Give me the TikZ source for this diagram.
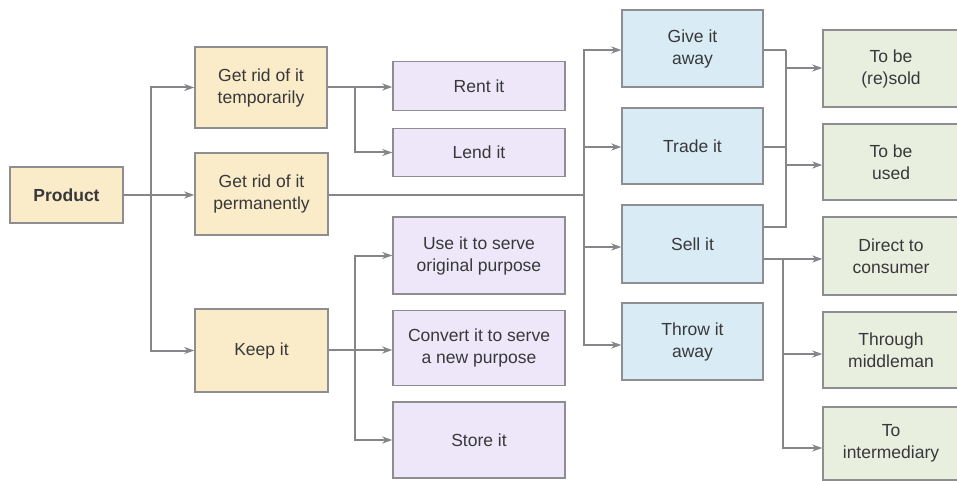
\documentclass[tikz,border=0pt]{standalone}
\usepackage{fontspec}
\setmainfont{Liberation Sans}
\usetikzlibrary{arrows.meta}
\definecolor{linegray}{HTML}{85858A}
\definecolor{boxedge}{HTML}{8E8E92}
\definecolor{txt}{HTML}{38383A}
\definecolor{fillorange}{HTML}{FAEBC9}
\definecolor{fillpurple}{HTML}{EDE7F9}
\definecolor{fillblue}{HTML}{D9ECF6}
\definecolor{fillgreen}{HTML}{E9EFDF}
\tikzset{
  base/.style={draw=boxedge, line width=1.4pt, text=txt, align=center,
    inner sep=0pt, font=\fontsize{17.5}{22}\selectfont},
  obox/.style={base, fill=fillorange},
  pbox/.style={base, fill=fillpurple},
  bbox/.style={base, fill=fillblue},
  gbox/.style={base, fill=fillgreen},
  conn/.style={draw=linegray, line width=2pt},
  arr/.style={conn, -{Stealth[length=10pt, width=7pt, inset=3pt]}},
}
\begin{document}
\begin{tikzpicture}[x=1pt, y={(0pt,-1pt)}]
\useasboundingbox (0,0) rectangle (957,481);
\clip (0,0) rectangle (957,481);

% first level
\node[obox, minimum width=113pt, minimum height=56pt] (prod) at (66.5,195) {\bfseries Product};
\node[obox, minimum width=132pt, minimum height=81pt] (temp) at (261,87.5) {Get rid of it\\temporarily};
\node[obox, minimum width=133pt, minimum height=82pt] (perm) at (261.5,194) {Get rid of it\\permanently};
\node[obox, minimum width=133pt, minimum height=83pt] (keep) at (261.5,350.5) {Keep it};

% second level
\node[pbox, minimum width=172pt, minimum height=49pt] (rent) at (479,86) {Rent it};
\node[pbox, minimum width=172pt, minimum height=48pt] (lend) at (479,152.5) {Lend it};
\node[pbox, minimum width=172pt, minimum height=77pt] (use) at (479,255.5) {Use it to serve\\original purpose};
\node[pbox, minimum width=172pt, minimum height=75pt] (conv) at (479,348) {Convert it to serve\\a new purpose};
\node[pbox, minimum width=172pt, minimum height=76pt] (store) at (479,440) {Store it};

% disposal options
\node[bbox, minimum width=141pt, minimum height=77pt] (give) at (692.5,48.5) {Give it\\away};
\node[bbox, minimum width=141pt, minimum height=76pt] (trade) at (692.5,146) {Trade it};
\node[bbox, minimum width=141pt, minimum height=78pt] (sell) at (692.5,244) {Sell it};
\node[bbox, minimum width=141pt, minimum height=77pt] (throw) at (692.5,341.5) {Throw it\\away};

% destinations
\node[gbox, minimum width=136pt, minimum height=77pt] (sold) at (891,68.5) {To be\\(re)sold};
\node[gbox, minimum width=136pt, minimum height=76pt] (used) at (891,162) {To be\\used};
\node[gbox, minimum width=136pt, minimum height=78pt] (direct) at (891,256) {Direct to\\consumer};
\node[gbox, minimum width=136pt, minimum height=76pt] (middle) at (891,350) {Through\\middleman};
\node[gbox, minimum width=136pt, minimum height=73pt] (inter) at (891,443.5) {To\\intermediary};

% branch points
\coordinate (t0) at (151,195);
\coordinate (t1) at (355,87);
\coordinate (t2) at (355,350);
\coordinate (t3) at (584,195);
\coordinate (t4) at (786,50);
\coordinate (t5) at (783,259);

% connector heights
\coordinate (yGive) at (0,50);
\coordinate (yTrade) at (0,147);
\coordinate (ySell) at (0,247);
\coordinate (yThrow) at (0,345);
\coordinate (ySellUp) at (0,227);
\coordinate (ySold) at (0,68);
\coordinate (yUsed) at (0,165);
\coordinate (yMiddle) at (0,354);
\coordinate (yInter) at (0,448);

% product -> first level
\draw[arr] (prod.east |- t0) -- (perm.west |- t0);
\draw[arr] (t0) |- (temp.west);
\draw[arr] (t0) |- (keep.west);

% temporarily -> rent / lend
\draw[arr] (temp.east |- t1) -- (rent.west |- t1);
\draw[arr] (t1) |- (lend.west);

% keep -> use / convert / store
\draw[arr] (keep.east |- t2) -- (conv.west |- t2);
\draw[arr] (t2) |- (use.west);
\draw[arr] (t2) |- (store.west);

% permanently -> disposal options
\draw[conn] (perm.east |- t3) -- (t3);
\draw[arr] (t3) |- (give.west |- yGive);
\draw[arr] (t3) |- (trade.west |- yTrade);
\draw[arr] (t3) |- (sell.west |- ySell);
\draw[arr] (t3) |- (throw.west |- yThrow);

% give / trade / sell -> resold / used
\draw[conn] (give.east |- yGive) -| (t4);
\draw[conn] (trade.east |- yTrade) -- (t4 |- yTrade);
\draw[conn] (sell.east |- ySellUp) -| (t4);
\draw[arr] (t4 |- ySold) -- (sold.west |- ySold);
\draw[arr] (t4 |- yUsed) -- (used.west |- yUsed);

% sell -> sales channels
\draw[arr] (sell.east |- t5) -- (direct.west |- t5);
\draw[arr] (t5) |- (middle.west |- yMiddle);
\draw[arr] (t5) |- (inter.west |- yInter);
\end{tikzpicture}
\end{document}
